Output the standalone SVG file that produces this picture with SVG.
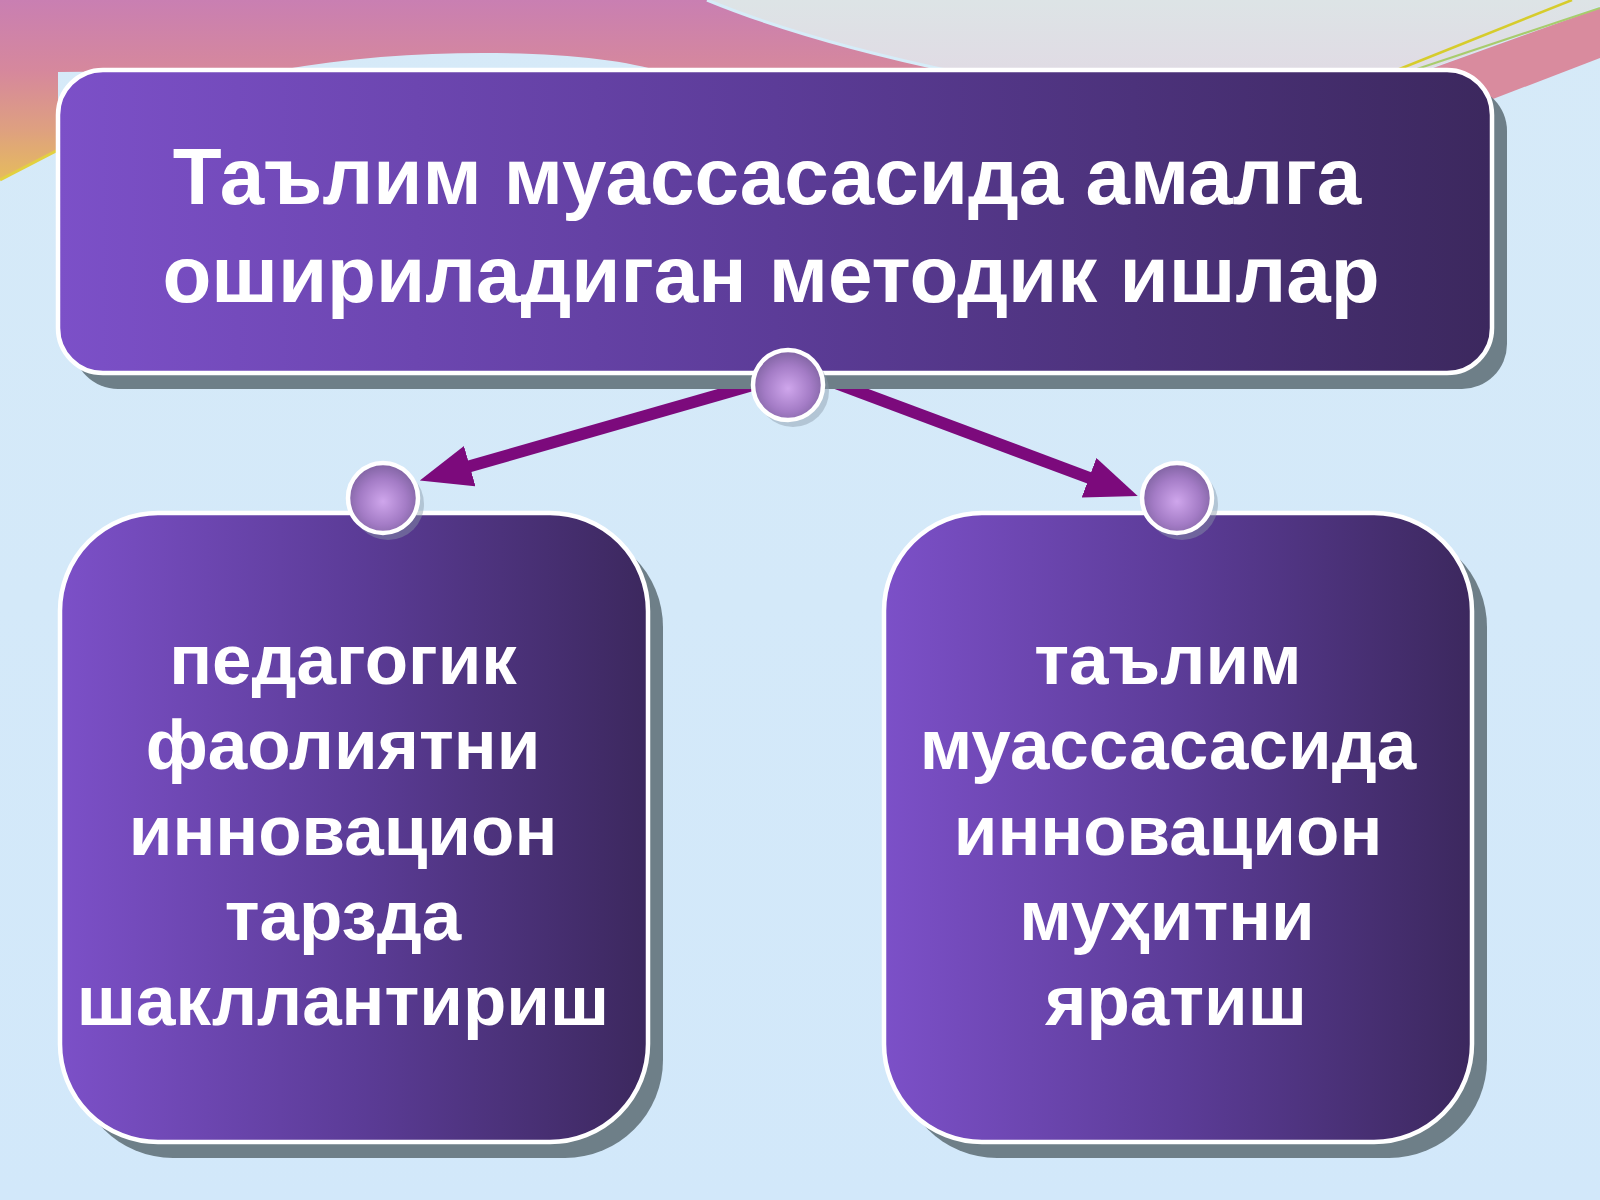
<svg xmlns="http://www.w3.org/2000/svg" width="1600" height="1200" viewBox="0 0 1600 1200">
  <defs>
    <linearGradient id="bg" x1="0" y1="0" x2="0" y2="1">
      <stop offset="0" stop-color="#d6eaf8"/>
      <stop offset="1" stop-color="#d2e8fa"/>
    </linearGradient>
    <linearGradient id="pink" gradientUnits="userSpaceOnUse" x1="0" y1="0" x2="0" y2="180">
      <stop offset="0" stop-color="#c97fb2"/>
      <stop offset="0.4" stop-color="#d6889c"/>
      <stop offset="0.72" stop-color="#dea080"/>
      <stop offset="1" stop-color="#e6bc5c"/>
    </linearGradient>
    <linearGradient id="gray" x1="0" y1="0" x2="0" y2="1">
      <stop offset="0" stop-color="#dde4e6"/>
      <stop offset="1" stop-color="#e0dbe4"/>
    </linearGradient>
    <linearGradient id="boxg" x1="0" y1="0" x2="1" y2="0">
      <stop offset="0" stop-color="#7c50c8"/>
      <stop offset="0.5" stop-color="#5c3c98"/>
      <stop offset="1" stop-color="#3c285e"/>
    </linearGradient>
    <radialGradient id="ball" cx="0.5" cy="0.55" r="0.55">
      <stop offset="0" stop-color="#cfa6ec"/>
      <stop offset="0.6" stop-color="#a47cc6"/>
      <stop offset="1" stop-color="#7e62a0"/>
    </radialGradient>
    <marker id="ah" markerUnits="userSpaceOnUse" markerWidth="54" markerHeight="44" refX="32" refY="21" orient="auto">
      <path d="M0,0 L52,21 L0,42 Z" fill="#7c0a7c"/>
    </marker>
    <style>
      .shadow { fill: #6e7f88; }
      .box { fill: url(#boxg); stroke: #ffffff; stroke-width: 4.5; }
      .ballshadow { fill: #8a9aa8; opacity: 0.45; }
      .ball { fill: url(#ball); stroke: #ffffff; stroke-width: 4.5; }
      .title { font-family: "Liberation Sans", Arial, sans-serif; font-weight: bold; font-size: 80px; fill: #ffffff; text-anchor: middle; }
      .label { font-family: "Liberation Sans", Arial, sans-serif; font-weight: bold; font-size: 71px; fill: #ffffff; text-anchor: middle; }
      .arrow { stroke: #7c0a7c; stroke-width: 12; fill: none; marker-end: url(#ah); }
    </style>
  </defs>

  <!-- background -->
  <rect x="0" y="0" width="1600" height="1200" fill="url(#bg)"/>
  <path d="M707,0 H1600 V6 L1420,72 H955 C860,52 780,30 707,0 Z" fill="url(#gray)"/>
  <path d="M0,0 H707 C780,30 860,52 955,72 H662 C600,50 420,44 280,70 L58,72 L58,150 L0,180 Z" fill="url(#pink)"/>
  <path d="M707,0 C780,30 860,52 955,72" fill="none" stroke="#d6ecf8" stroke-width="3"/>
  <path d="M0,180 L58,150" fill="none" stroke="#e2d040" stroke-width="3"/>
  <path d="M1422,72 L1600,8 V58 L1480,104 L1440,104 Z" fill="#d98b9e"/>
  <path d="M1392,72 L1572,0" fill="none" stroke="#d6cc2c" stroke-width="2.5"/>
  <path d="M1408,72 L1600,8" fill="none" stroke="#a8cc6c" stroke-width="2"/>

  <!-- connectors -->
  <g id="connectors">
    <path class="arrow" d="M788,375 L439,475"/>
    <path class="arrow" d="M790,366 L1119,489"/>
  </g>

  <g id="node-top">
    <rect class="shadow" x="73" y="86" width="1434" height="303" rx="45"/>
    <rect class="box" x="58" y="70" width="1434" height="303" rx="45"/>
    <text class="title" x="767" y="204">Таълим муассасасида амалга</text>
    <text class="title" x="771" y="302">ошириладиган методик ишлар</text>
  </g>

  <g id="node-left">
    <rect class="shadow" x="75" y="529" width="588" height="629" rx="98"/>
    <rect class="box" x="60" y="513" width="588" height="629" rx="98"/>
    <text class="label" x="343" y="684">педагогик</text>
    <text class="label" x="343" y="769">фаолиятни</text>
    <text class="label" x="343" y="855">инновацион</text>
    <text class="label" x="343" y="940">тарзда</text>
    <text class="label" x="343" y="1025">шакллантириш</text>
  </g>

  <g id="node-right">
    <rect class="shadow" x="899" y="529" width="588" height="629" rx="98"/>
    <rect class="box" x="884" y="513" width="588" height="629" rx="98"/>
    <text class="label" x="1168" y="684">таълим</text>
    <text class="label" x="1168" y="769">муассасасида</text>
    <text class="label" x="1168" y="855">инновацион</text>
    <text class="label" x="1167" y="940">муҳитни</text>
    <text class="label" x="1176" y="1025">яратиш</text>
  </g>

  <g id="ball-center">
    <circle class="ballshadow" cx="793" cy="391" r="36"/>
    <circle class="ball" cx="788" cy="385" r="35"/>
  </g>
  <g id="ball-left">
    <circle class="ballshadow" cx="388" cy="504" r="36"/>
    <circle class="ball" cx="383" cy="498" r="35"/>
  </g>
  <g id="ball-right">
    <circle class="ballshadow" cx="1182" cy="504" r="36"/>
    <circle class="ball" cx="1177" cy="498" r="35"/>
  </g>
</svg>
